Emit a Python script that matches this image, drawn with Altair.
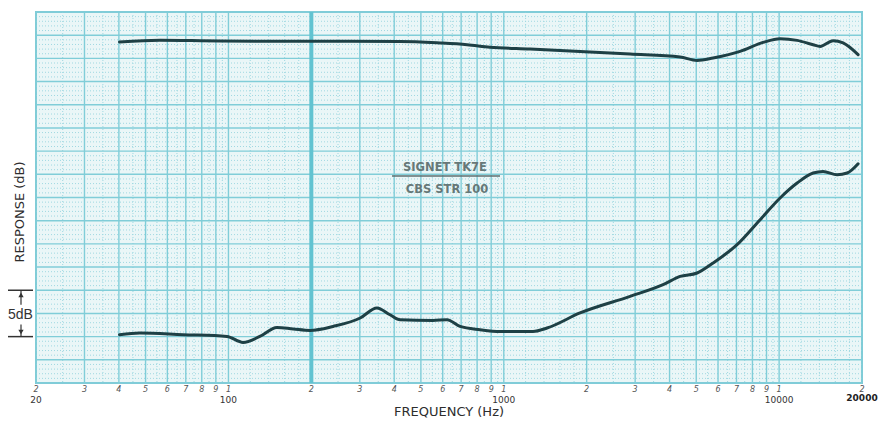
import altair as alt
import pandas as pd

# ---------------- data ----------------
top_freq = [40.2, 56.4, 93.2, 182, 420, 587, 736, 891, 1246, 1892, 2876, 4368, 5036,
            5756, 7212, 8744, 10082, 11626, 13290, 14090, 15706, 17076, 19358]
top_db = [36.77, 36.96, 36.87, 36.85, 36.83, 36.66, 36.47, 36.20, 36.01, 35.75, 35.47,
          35.15, 34.78, 35.04, 35.75, 36.72, 37.12, 36.94, 36.47, 36.29, 36.91, 36.66, 35.40]

bot_freq = [40.2, 47.7, 68.4, 98.8, 113, 130, 150, 172, 198, 240, 301, 346, 386, 420,
            553, 622, 694, 820, 969, 1277, 1436, 1892, 2876, 3790, 4368, 5036, 5756,
            7036, 8532, 10082, 11626, 13290, 14446, 16242, 17660, 19358]
bot_db = [5.21, 5.39, 5.21, 5.02, 4.38, 5.02, 5.99, 5.82, 5.67, 6.10, 7.01, 8.09, 7.36,
          6.82, 6.75, 6.82, 6.10, 5.75, 5.56, 5.56, 5.93, 7.55, 9.34, 10.60, 11.49, 11.86,
          12.94, 14.91, 17.61, 19.95, 21.56, 22.64, 22.81, 22.46, 22.64, 23.64]

digit_freqs = [20, 30, 40, 50, 60, 70, 80, 90, 100,
               200, 300, 400, 500, 600, 700, 800, 900, 1000,
               2000, 3000, 4000, 5000, 6000, 7000, 8000, 9000, 10000, 20000]
digit_labels = ["2", "3", "4", "5", "6", "7", "8", "9", "1",
                "2", "3", "4", "5", "6", "7", "8", "9", "1",
                "2", "3", "4", "5", "6", "7", "8", "9", "1", "2"]
decade_freqs = [20, 100, 1000, 10000]
decade_labels = ["20", "100", "1000", "10000"]
end_freq = [20000]
end_label = ["20000"]

bracket_db = [5, 10]
title_x = "FREQUENCY (Hz)"
title_y = "RESPONSE (dB)"
note_1 = "SIGNET TK7E"
note_2 = "CBS STR 100"

# ---------------- graph-paper grid (decoration) ----------------
major_mult = [1, 2, 3, 4, 5, 6, 7, 8, 9]
minor_mult = [1.2, 1.4, 1.6, 1.8, 2.5, 3.5, 4.5, 5.5, 6.5, 7.5, 8.5, 9.5]
decades = [10, 100, 1000, 10000]
major_v = [m * d for d in decades for m in major_mult if 20 <= m * d <= 20000]
minor_v = [m * d for d in decades for m in minor_mult if 20 <= m * d <= 20000]
major_h = [i * 2.5 for i in range(17)]
minor_h = [i * 0.5 for i in range(81) if i % 5 != 0]

W, H = 826, 371
xs = alt.Scale(type="log", domain=[20, 20000], nice=False)
ys = alt.Scale(domain=[0, 40], nice=False, zero=False)
FONT = "DejaVu Sans"

grid_minor_v = alt.Chart(pd.DataFrame({"f": minor_v})).mark_rule(
    color="#9fd8e1", strokeWidth=1, strokeDash=[1, 2]
).encode(x=alt.X("f:Q", scale=xs, axis=None))

grid_minor_h = alt.Chart(pd.DataFrame({"d": minor_h})).mark_rule(
    color="#9fd8e1", strokeWidth=1, strokeDash=[1, 2]
).encode(y=alt.Y("d:Q", scale=ys, axis=None))

grid_major_v = alt.Chart(pd.DataFrame({"f": major_v})).mark_rule(
    color="#80cdd8", strokeWidth=1.4
).encode(x=alt.X("f:Q", scale=xs, axis=None))

grid_major_h = alt.Chart(pd.DataFrame({"d": major_h})).mark_rule(
    color="#80cdd8", strokeWidth=1.4
).encode(y=alt.Y("d:Q", scale=ys, axis=None))

grid_bold = alt.Chart(pd.DataFrame({"f": [200]})).mark_rule(
    color="#62c3d1", strokeWidth=4
).encode(x=alt.X("f:Q", scale=xs, axis=None))

curves_df = pd.DataFrame({
    "f": top_freq + bot_freq,
    "db": top_db + bot_db,
    "s": ["top"] * len(top_freq) + ["bottom"] * len(bot_freq),
})
curves = alt.Chart(curves_df).mark_line(
    interpolate="monotone", strokeWidth=3, color="#1e4045", strokeCap="round"
).encode(
    x=alt.X("f:Q", scale=xs, axis=None),
    y=alt.Y("db:Q", scale=ys, axis=None),
    detail="s:N",
)

digits = alt.Chart(pd.DataFrame({"f": digit_freqs, "t": digit_labels})).mark_text(
    font=FONT, fontSize=8, fontStyle="italic", color="#555555", baseline="middle"
).encode(x=alt.X("f:Q", scale=xs, axis=None), y=alt.value(H + 7), text="t:N")

decade_txt = alt.Chart(pd.DataFrame({"f": decade_freqs, "t": decade_labels})).mark_text(
    font=FONT, fontSize=9, color="#333333", baseline="middle"
).encode(x=alt.X("f:Q", scale=xs, axis=None), y=alt.value(H + 17), text="t:N")

end_txt = alt.Chart(pd.DataFrame({"f": end_freq, "t": end_label})).mark_text(
    font=FONT, fontSize=9, fontWeight="bold", color="#222222", baseline="middle"
).encode(x=alt.X("f:Q", scale=xs, axis=None), y=alt.value(H + 15), text="t:N")

xtitle = alt.Chart(pd.DataFrame({"t": [title_x]})).mark_text(
    font=FONT, fontSize=13, fontWeight=500, color="#2d2d2d", baseline="middle"
).encode(x=alt.value(413), y=alt.value(H + 29), text="t:N")

ytitle = alt.Chart(pd.DataFrame({"t": [title_y]})).mark_text(
    font=FONT, fontSize=13, fontWeight=500, color="#2d2d2d", baseline="middle", angle=270
).encode(x=alt.value(-16), y=alt.value(200), text="t:N")

bracket = alt.Chart(pd.DataFrame({"d": bracket_db})).mark_rule(
    color="#333333", strokeWidth=1.5
).encode(x=alt.value(-28), x2=alt.value(-3), y=alt.Y("d:Q", scale=ys, axis=None))

shafts = alt.Chart(pd.DataFrame({"a": [10, 5], "b": [8.45, 6.3]})).mark_rule(
    color="#333333", strokeWidth=1.2
).encode(x=alt.value(-15), y=alt.Y("a:Q", scale=ys, axis=None), y2="b:Q")

heads = alt.Chart(pd.DataFrame({"d": [9.5, 5.5], "sh": ["triangle-up", "triangle-down"]})).mark_point(
    filled=True, color="#333333", size=28, opacity=1
).encode(x=alt.value(-15), y=alt.Y("d:Q", scale=ys, axis=None),
         shape=alt.Shape("sh:N", scale=None, legend=None))

five_db = alt.Chart(pd.DataFrame({"t": ["5dB"]})).mark_text(
    font="Liberation Sans", fontSize=14, color="#333333", baseline="middle"
).encode(x=alt.value(-15.5), y=alt.value(303), text="t:N")

note_a = alt.Chart(pd.DataFrame({"t": [note_1]})).mark_text(
    font=FONT, fontSize=11.5, fontWeight="bold", color="#667878", baseline="middle"
).encode(x=alt.value(409), y=alt.value(156), text="t:N")

note_line = alt.Chart(pd.DataFrame({"t": [0]})).mark_rule(
    color="#5c6e6f", strokeWidth=1.5
).encode(x=alt.value(356), x2=alt.value(464), y=alt.value(164))

note_b = alt.Chart(pd.DataFrame({"t": [note_2]})).mark_text(
    font=FONT, fontSize=11.5, fontWeight="bold", color="#667878", baseline="middle"
).encode(x=alt.value(411), y=alt.value(178), text="t:N")

chart = alt.layer(
    grid_minor_v, grid_minor_h, grid_major_v, grid_major_h, grid_bold,
    note_a, note_line, note_b,
    curves, digits, decade_txt, end_txt, xtitle, ytitle,
    bracket, shafts, heads, five_db,
).properties(
    width=W, height=H,
    autosize=alt.AutoSizeParams(type="none"),
    padding={"left": 28, "top": 4, "right": 16, "bottom": 38},
    background="white",
).configure_view(
    fill="#eaf6f7", stroke="#7fcad5", strokeWidth=2
)

chart.save("out.html", embed_options={"renderer": "svg", "actions": False})
